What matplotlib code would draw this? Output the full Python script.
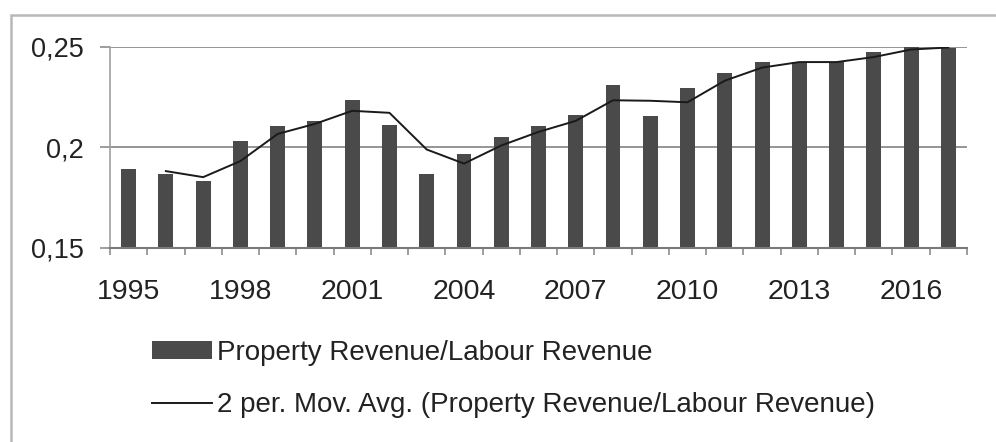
import numpy as np
import pandas as pd
import matplotlib
matplotlib.use('Agg')
import matplotlib.pyplot as plt
from matplotlib.patches import Rectangle
from matplotlib.ticker import FuncFormatter

plt.rcParams['font.family'] = ['Liberation Sans', 'DejaVu Sans']

years = list(range(1995, 2018))
ratio = [0.1895, 0.187, 0.1835, 0.203, 0.2105, 0.213, 0.2235, 0.211, 0.187,
         0.197, 0.205, 0.2105, 0.216, 0.231, 0.2155, 0.2295, 0.237, 0.2425,
         0.2425, 0.2425, 0.2475, 0.25, 0.2495]
bar_label = 'Property Revenue/Labour Revenue'
avg_label = '2 per. Mov. Avg. (Property Revenue/Labour Revenue)'

# 2-period moving average, as the spreadsheet trendline defines it
mov_avg = pd.Series(ratio).rolling(2).mean().to_numpy()

fig = plt.figure(figsize=(9.96, 4.42), dpi=100)
fig.patch.set_facecolor('white')

# outer chart frame
fig.patches.append(Rectangle((11 / 996, -0.05), 1.1, 1 - 15 / 442 + 0.05,
                             transform=fig.transFigure, fill=False,
                             edgecolor='#b8b8b8', lw=1.8))

ax = fig.add_axes([110 / 996, 1 - 248 / 442, (967 - 110) / 996, (248 - 47) / 442])
x = np.arange(len(years))

bars = ax.bar(x, ratio, width=0.4, color='#4a4a4a', label=bar_label, zorder=2)
line, = ax.plot(x, mov_avg, color='#1a1a1a', lw=1.4, label=avg_label, zorder=3)

ax.set_xlim(-0.5, len(years) - 0.5)
ax.set_ylim(0.15, 0.25)
ax.set_yticks([0.15, 0.2, 0.25])
ax.yaxis.set_major_formatter(FuncFormatter(lambda v, p: f'{v:g}'.replace('.', ',')))
ax.grid(axis='y', color='#8c8c8c', lw=1.3, zorder=1)
ax.set_axisbelow(True)

ax.set_xticks(x[::3])
ax.set_xticklabels([str(y) for y in years[::3]])
ax.set_xticks(np.arange(-0.5, len(years)), minor=True)
ax.tick_params(axis='x', which='major', length=0, pad=22, labelsize=20.5, labelcolor='#222222')
ax.tick_params(axis='x', which='minor', length=5, width=1.2, color='#8c8c8c', direction='out')
ax.tick_params(axis='y', length=7, width=1.2, color='#8c8c8c', pad=12, labelsize=19.5,
               labelcolor='#222222')

for s in ['top', 'right']:
    ax.spines[s].set_visible(False)
ax.spines['left'].set_color('#a0a0a0')
ax.spines['left'].set_linewidth(1.2)
ax.spines['bottom'].set_color('#7a7a7a')
ax.spines['bottom'].set_linewidth(1.5)

leg = fig.legend([bars, line], [bar_label, avg_label],
                 loc='upper left', bbox_to_anchor=(152 / 996, 1 - 340 / 442),
                 frameon=False, fontsize=20, handlelength=2.15, handleheight=0.6,
                 handletextpad=0.2, labelspacing=0.95, borderpad=0, borderaxespad=0)
for t in leg.get_texts():
    t.set_color('#222222')

fig.savefig('out.png', dpi=100)
